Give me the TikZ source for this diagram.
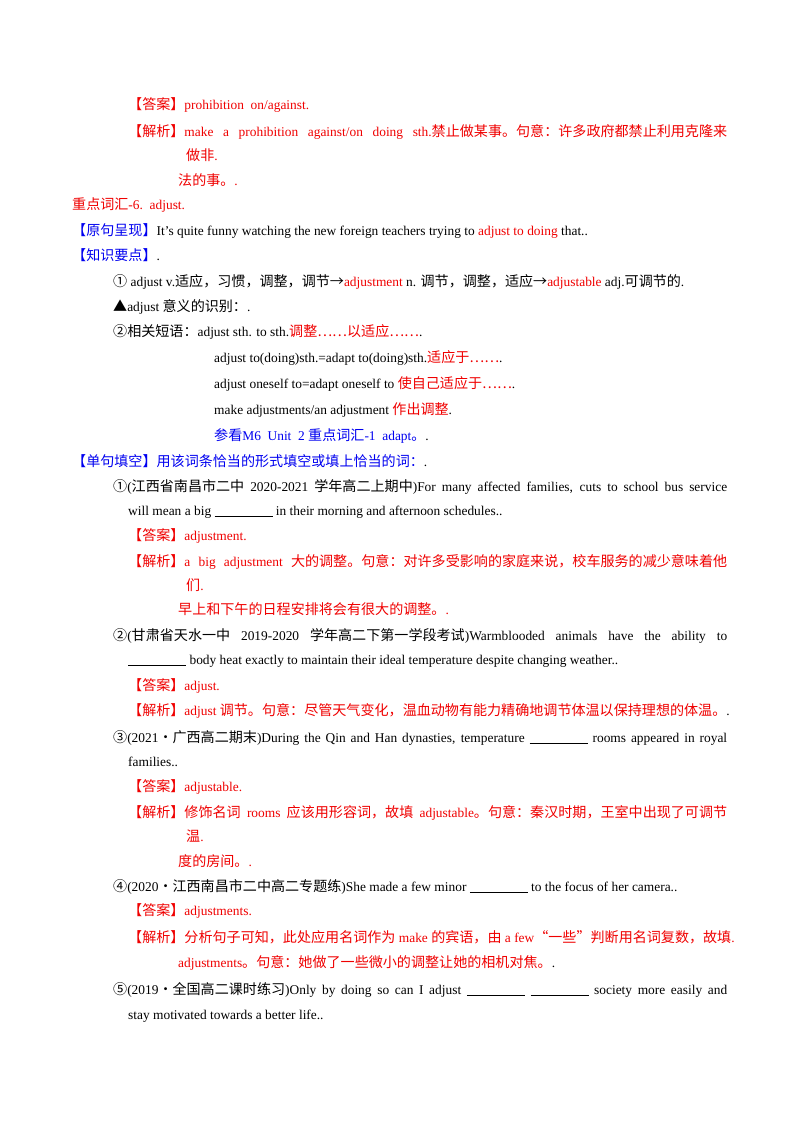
\documentclass[tikz,border=0pt]{standalone}
\usepackage{fontspec}
\setmainfont{Liberation Serif}
\newfontfamily\cjk[Scale=1.05]{Noto Sans CJK SC}
\newcommand\z[1]{{\cjk #1}}
\definecolor{rd}{RGB}{240,0,0}
\definecolor{bl}{RGB}{0,0,240}
\newcommand\rd[1]{\textcolor{rd}{#1}}
\newcommand\bl[1]{\textcolor{bl}{#1}}
\newcommand\bk{\underline{\hspace{58pt}}}
\newcounter{ln}
\newcommand\Ln[3]{\stepcounter{ln}\node[txt] (t\theln) at (#1pt,-#2pt) {#3};}
\newcommand\Jn[4]{\stepcounter{ln}\node[txt] (t\theln) at (#1pt,-#2pt) {\makebox[#3pt][s]{#4}};}
\begin{document}
\begin{tikzpicture}[txt/.style={anchor=base west,inner sep=0pt,font=\fontsize{13.4}{15}\selectfont}]
\fill[white] (0,0) rectangle (800pt,-1132pt);
\useasboundingbox (0,0) rectangle (800pt,-1132pt);
\Ln{128}{109}{\rd{\z{【答案】}prohibition\ \ on/against.}}
\Jn{128}{136}{599}{\rd{\z{【解析】}make a prohibition against/on doing sth.\z{禁止做某事。句意：许多政府都禁止利用克隆来}}}
\Ln{186}{160}{\rd{\z{做非}.}}
\Ln{178}{185}{\rd{\z{法的事。}.}}
\Ln{72}{209}{\rd{\z{重点词汇}-6.\ \ adjust.}}
\Ln{72}{235}{\bl{\z{【原句呈现】}}It's quite funny watching the new foreign teachers trying to \rd{adjust to doing} that..}
\Ln{72}{260}{\bl{\z{【知识要点】}}.}
\Ln{113}{286}{\z{①} adjust v.\z{适应，习惯，调整，调节→}\rd{adjustment} n. \z{调节，调整，适应→}\rd{adjustable} adj.\z{可调节的}.}
\Ln{113}{311}{\z{▲}adjust \z{意义的识别：}.}
\Ln{113}{336}{\z{②相关短语：}adjust sth. to sth.\rd{\z{调整……以适应……}}.}
\Ln{214}{362}{adjust to(doing)sth.=adapt to(doing)sth.\rd{\z{适应于……}}.}
\Ln{214}{388}{adjust oneself to=adapt oneself to \rd{\z{使自己适应于……}}.}
\Ln{214}{414}{make adjustments/an adjustment \rd{\z{作出调整}}.}
\Ln{214}{440}{\bl{\z{参看}M6\ \ Unit\ \ 2 \z{重点词汇}-1\ \ adapt\z{。}}.}
\Ln{72}{466}{\bl{\z{【单句填空】用该词条恰当的形式填空或填上恰当的词：}}.}
\Jn{113}{491}{614}{\z{①}(\z{江西省南昌市二中} 2020-2021 \z{学年高二上期中})For many affected families, cuts to school bus service}
\Ln{128}{515}{will mean a big \bk\ in their morning and afternoon schedules..}
\Ln{128}{540}{\rd{\z{【答案】}adjustment.}}
\Jn{128}{566}{599}{\rd{\z{【解析】}a big adjustment \z{大的调整。句意：对许多受影响的家庭来说，校车服务的减少意味着他}}}
\Ln{186}{590}{\rd{\z{们}.}}
\Ln{178}{614}{\rd{\z{早上和下午的日程安排将会有很大的调整。}.}}
\Jn{113}{640}{614}{\z{②}(\z{甘肃省天水一中} 2019-2020 \z{学年高二下第一学段考试})Warmblooded animals have the ability to}
\Ln{128}{664}{\bk\ body heat exactly to maintain their ideal temperature despite changing weather..}
\Ln{128}{690}{\rd{\z{【答案】}adjust.}}
\Ln{128}{715}{\rd{\z{【解析】}adjust \z{调节。句意：尽管天气变化，温血动物有能力精确地调节体温以保持理想的体温。}}.}
\Jn{113}{742}{614}{\z{③}(2021\z{·广西高二期末})During the Qin and Han dynasties, temperature \bk\ rooms appeared in royal}
\Ln{128}{766}{families..}
\Ln{128}{791}{\rd{\z{【答案】}adjustable.}}
\Jn{128}{817}{599}{\rd{\z{【解析】修饰名词} rooms \z{应该用形容词，故填} adjustable\z{。句意：秦汉时期，王室中出现了可调节}}}
\Ln{186}{841}{\rd{\z{温}.}}
\Ln{178}{866}{\rd{\z{度的房间。}.}}
\Ln{113}{891}{\z{④}(2020\z{·江西南昌市二中高二专题练})She made a few minor \bk\ to the focus of her camera..}
\Ln{128}{915}{\rd{\z{【答案】}adjustments.}}
\Ln{128}{942}{\rd{\z{【解析】分析句子可知，此处应用名词作为} make \z{的宾语，由} a few\z{“一些”判断用名词复数，故填}.}}
\Ln{178}{967}{\rd{adjustments\z{。句意：她做了一些微小的调整让她的相机对焦。}}.}
\Jn{113}{994}{614}{\z{⑤}(2019\z{·全国高二课时练习})Only by doing so can I adjust \bk\ \bk\ society more easily and}
\Ln{128}{1019}{stay motivated towards a better life..}
\end{tikzpicture}
\end{document}
